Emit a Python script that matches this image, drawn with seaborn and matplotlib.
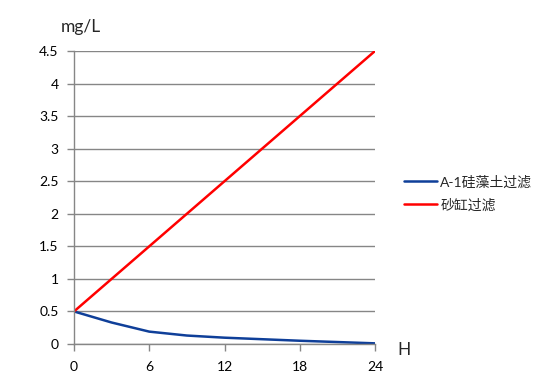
import pandas as pd
import matplotlib
matplotlib.use('Agg')
import matplotlib.pyplot as plt
import seaborn as sns

sns.set_theme(style="white")
plt.rcParams['font.family'] = ['Lato', 'Noto Sans CJK SC', 'DejaVu Sans']

# Data
hours = [0, 3, 6, 9, 12, 18, 24]
diatomite = [0.5, 0.33, 0.19, 0.13, 0.097, 0.05, 0.01]
sand_hours = [0, 24]
sand = [0.5, 4.5]

df = pd.concat([
    pd.DataFrame({'H': hours, 'mg/L': diatomite, 'series': 'A-1硅藻土过滤'}),
    pd.DataFrame({'H': sand_hours, 'mg/L': sand, 'series': '砂缸过滤'}),
])

fig = plt.figure(figsize=(5.4, 3.83), dpi=100)
ax = fig.add_axes([74 / 540, 39 / 383, 301 / 540, 293 / 383])

sns.lineplot(data=df, x='H', y='mg/L', hue='series', ax=ax,
             palette={'A-1硅藻土过滤': '#0f3f99', '砂缸过滤': '#ff0000'},
             linewidth=1.8, legend=True)

grid_c = '#868686'
ax.set_xlim(0, 24)
ax.set_ylim(0, 4.5)
ax.set_xticks([0, 6, 12, 18, 24])
ax.set_yticks([i * 0.5 for i in range(10)])
ax.set_yticklabels(['0', '0.5', '1', '1.5', '2', '2.5', '3', '3.5', '4', '4.5'])
ax.yaxis.grid(True, color=grid_c, linewidth=1)
ax.xaxis.grid(False)
for s in ['top', 'right']:
    ax.spines[s].set_visible(False)
for s in ['left', 'bottom']:
    ax.spines[s].set_color(grid_c)
    ax.spines[s].set_linewidth(1)
ax.tick_params(axis='both', which='both', direction='out', length=5,
               width=1, color=grid_c, labelsize=10, labelcolor='black',
               left=True, bottom=True)
ax.tick_params(axis='y', pad=6)
ax.tick_params(axis='x', pad=7)
ax.set_xlabel('')
ax.set_ylabel('')

fig.text(81 / 540, 1 - 27 / 383, 'mg/L', ha='center', va='center', fontsize=12.5)
fig.text(404 / 540, 1 - 350 / 383, 'H', ha='center', va='center', fontsize=12.5)

ax.legend(loc='center left', bbox_to_anchor=(1.055, 0.515), frameon=False,
          fontsize=10, handlelength=2.4, handletextpad=0.2, labelspacing=0.7,
          title=None)

fig.savefig('out.png', dpi=100)
